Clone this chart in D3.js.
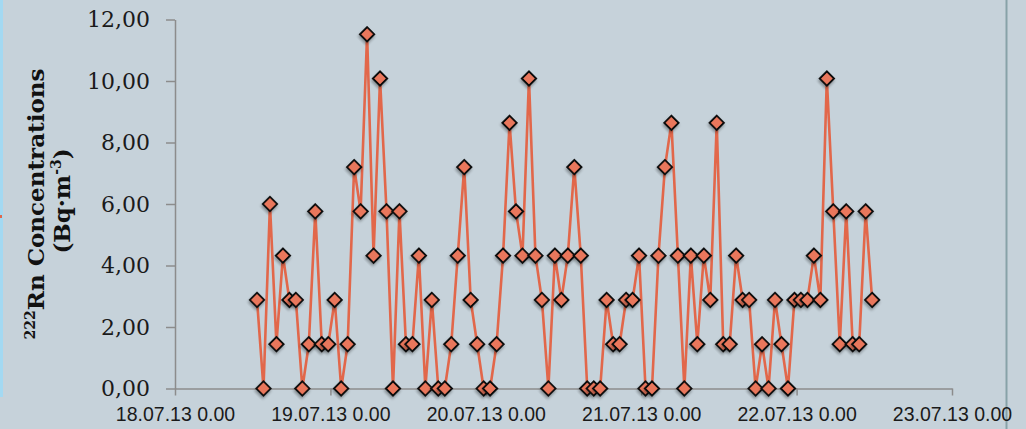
<!DOCTYPE html>
<html>
<head>
<meta charset="utf-8">
<script src="https://cdn.jsdelivr.net/npm/d3@7"></script>
<style>
  body { margin: 0; background: #c6d2da; }
  #chart { width: 1026px; height: 429px; }
</style>
</head>
<body>
<div id="chart"></div>
<script>
// Measurement times (hourly samples)
const sampleTimes = [
  "18.07.13 12:40", "18.07.13 13:40", "18.07.13 14:40", "18.07.13 15:40", "18.07.13 16:40", "18.07.13 17:40",
  "18.07.13 18:40", "18.07.13 19:40", "18.07.13 20:40", "18.07.13 21:40", "18.07.13 22:40", "18.07.13 23:40",
  "19.07.13 00:40", "19.07.13 01:40", "19.07.13 02:40", "19.07.13 03:40", "19.07.13 04:40", "19.07.13 05:40",
  "19.07.13 06:40", "19.07.13 07:40", "19.07.13 08:40", "19.07.13 09:40", "19.07.13 10:40", "19.07.13 11:40",
  "19.07.13 12:40", "19.07.13 13:40", "19.07.13 14:40", "19.07.13 15:40", "19.07.13 16:40", "19.07.13 17:40",
  "19.07.13 18:40", "19.07.13 19:40", "19.07.13 20:40", "19.07.13 21:40", "19.07.13 22:40", "19.07.13 23:40",
  "20.07.13 00:40", "20.07.13 01:40", "20.07.13 02:40", "20.07.13 03:40", "20.07.13 04:40", "20.07.13 05:40",
  "20.07.13 06:40", "20.07.13 07:40", "20.07.13 08:40", "20.07.13 09:40", "20.07.13 10:40", "20.07.13 11:40",
  "20.07.13 12:40", "20.07.13 13:40", "20.07.13 14:40", "20.07.13 15:40", "20.07.13 16:40", "20.07.13 17:40",
  "20.07.13 18:40", "20.07.13 19:40", "20.07.13 20:40", "20.07.13 21:40", "20.07.13 22:40", "20.07.13 23:40",
  "21.07.13 00:40", "21.07.13 01:40", "21.07.13 02:40", "21.07.13 03:40", "21.07.13 04:40", "21.07.13 05:40",
  "21.07.13 06:40", "21.07.13 07:40", "21.07.13 08:40", "21.07.13 09:40", "21.07.13 10:40", "21.07.13 11:40",
  "21.07.13 12:40", "21.07.13 13:40", "21.07.13 14:40", "21.07.13 15:40", "21.07.13 16:40", "21.07.13 17:40",
  "21.07.13 18:40", "21.07.13 19:40", "21.07.13 20:40", "21.07.13 21:40", "21.07.13 22:40", "21.07.13 23:40",
  "22.07.13 00:40", "22.07.13 01:40", "22.07.13 02:40", "22.07.13 03:40", "22.07.13 04:40", "22.07.13 05:40",
  "22.07.13 06:40", "22.07.13 07:40", "22.07.13 08:40", "22.07.13 09:40", "22.07.13 10:40", "22.07.13 11:40"
];

// 222Rn concentration, Bq·m-3
const radonValues = [
  2.88, 0, 6.0, 1.44, 4.32, 2.88, 2.88, 0, 1.44, 5.76, 1.44, 1.44,
  2.88, 0, 1.44, 7.2, 5.76, 11.52, 4.32, 10.08, 5.76, 0, 5.76, 1.44,
  1.44, 4.32, 0, 2.88, 0, 0, 1.44, 4.32, 7.2, 2.88, 1.44, 0,
  0, 1.44, 4.32, 8.64, 5.76, 4.32, 10.08, 4.32, 2.88, 0, 4.32, 2.88,
  4.32, 7.2, 4.32, 0, 0, 0, 2.88, 1.44, 1.44, 2.88, 2.88, 4.32,
  0, 0, 4.32, 7.2, 8.64, 4.32, 0, 4.32, 1.44, 4.32, 2.88, 8.64,
  1.44, 1.44, 4.32, 2.88, 2.88, 0, 1.44, 0, 2.88, 1.44, 0, 2.88,
  2.88, 2.88, 4.32, 2.88, 10.08, 5.76, 1.44, 5.76, 1.44, 1.44, 5.76, 2.88
];

const xTickDates = ["18.07.13 00:00", "19.07.13 00:00", "20.07.13 00:00", "21.07.13 00:00", "22.07.13 00:00", "23.07.13 00:00"];
const yTickValues = [0, 2, 4, 6, 8, 10, 12];

const margin = { top: 19.5, right: 74, bottom: 40.5, left: 175 };
const outerWidth = 1026;
const outerHeight = 429;
const width = outerWidth - margin.left - margin.right;
const height = outerHeight - margin.top - margin.bottom;

const lineColor = "#e2674a";
const markerColor = "#e9775b";
const axisColor = "#8c8c8c";

const parseTime = d3.timeParse("%d.%m.%y %H:%M");
const data = sampleTimes.map(function (t, i) {
  return { time: parseTime(t), value: radonValues[i] };
});
const xTicks = xTickDates.map(parseTime);

const root = d3.select("#chart")
  .append("svg")
  .attr("width", outerWidth)
  .attr("height", outerHeight)
  .style("display", "block");

// background
root.append("rect")
  .attr("width", outerWidth)
  .attr("height", outerHeight)
  .attr("fill", "#c6d2da");

// left blue strip and right border line
root.append("rect")
  .attr("x", 0).attr("y", 0)
  .attr("width", 3).attr("height", 397)
  .attr("fill", "#a3d9f2");
root.append("rect")
  .attr("x", 0).attr("y", 215)
  .attr("width", 2).attr("height", 3)
  .attr("fill", lineColor);
root.append("line")
  .attr("x1", 1006.5).attr("x2", 1006.5)
  .attr("y1", 0).attr("y2", outerHeight)
  .attr("stroke", "#87a2a8")
  .attr("stroke-width", 2);

const defs = root.append("defs");
const shadow = defs.append("filter")
  .attr("id", "shadow")
  .attr("x", "-50%").attr("y", "-50%")
  .attr("width", "200%").attr("height", "200%");
shadow.append("feDropShadow")
  .attr("dx", 1).attr("dy", 2)
  .attr("stdDeviation", 1.4)
  .attr("flood-color", "#000")
  .attr("flood-opacity", 0.35);

const svg = root.append("g")
  .attr("transform", `translate(${margin.left}, ${margin.top})`);

const xScale = d3.scaleTime()
  .domain([xTicks[0], xTicks[xTicks.length - 1]])
  .range([0, width]);

const yScale = d3.scaleLinear()
  .domain([0, 12])
  .range([height, 0]);

// x axis
const xAxis = d3.axisBottom(xScale)
  .tickValues(xTicks)
  .tickSizeInner(7)
  .tickSizeOuter(0)
  .tickPadding(12)
  .tickFormat(d3.timeFormat("%d.%m.%y %-H.%M"));

const xAxisGroup = svg.append("g")
  .attr("class", "x-axis")
  .attr("transform", `translate(0, ${height})`)
  .call(xAxis);

xAxisGroup.selectAll("text")
  .style("font-family", "'Liberation Sans Narrow', 'Liberation Sans', sans-serif")
  .style("font-size", "19.5px")
  .attr("fill", "#1a1a1a");

// y axis
const yAxis = d3.axisLeft(yScale)
  .tickValues(yTickValues)
  .tickSizeInner(9)
  .tickSizeOuter(0)
  .tickPadding(16)
  .tickFormat(function (d) {
    return d3.format(".2f")(d).replace(".", ",");
  });

const yAxisGroup = svg.append("g")
  .attr("class", "y-axis")
  .call(yAxis);

yAxisGroup.selectAll("text")
  .style("font-family", "'DejaVu Serif', serif")
  .style("font-size", "22px")
  .attr("fill", "#1a1a1a");

svg.selectAll(".domain, .tick line")
  .attr("stroke", axisColor)
  .attr("stroke-width", 1.5);

// y axis title
const title1 = root.append("text")
  .attr("transform", "translate(44, 204) rotate(-90)")
  .attr("text-anchor", "middle")
  .style("font-family", "'DejaVu Serif', serif")
  .style("font-weight", "bold")
  .style("font-size", "23px")
  .attr("fill", "#111");
title1.append("tspan")
  .attr("dy", -9)
  .style("font-size", "14px")
  .text("222");
title1.append("tspan")
  .attr("dy", 9)
  .text("Rn Concentrations");

const title2 = root.append("text")
  .attr("transform", "translate(70, 201) rotate(-90)")
  .attr("text-anchor", "middle")
  .style("font-family", "'DejaVu Serif', serif")
  .style("font-weight", "bold")
  .style("font-size", "23px")
  .attr("fill", "#111");
title2.append("tspan").text("(Bq·m");
title2.append("tspan")
  .attr("dy", -9)
  .style("font-size", "14px")
  .text("-3");
title2.append("tspan")
  .attr("dy", 9)
  .text(")");

// series line
const line = d3.line()
  .x(function (d) { return xScale(d.time); })
  .y(function (d) { return yScale(d.value); });

svg.append("path")
  .datum(data)
  .attr("fill", "none")
  .attr("stroke", lineColor)
  .attr("stroke-width", 2.6)
  .attr("stroke-linejoin", "round")
  .attr("d", line);

// diamond markers
svg.selectAll(".marker")
  .data(data)
  .enter()
  .append("path")
  .attr("class", "marker")
  .attr("d", d3.symbol().type(d3.symbolSquare).size(100))
  .attr("transform", function (d) {
    return `translate(${xScale(d.time)}, ${yScale(d.value)}) rotate(45)`;
  })
  .attr("fill", markerColor)
  .attr("stroke", "#111")
  .attr("stroke-width", 2)
  .attr("filter", "url(#shadow)");
</script>
</body>
</html>
